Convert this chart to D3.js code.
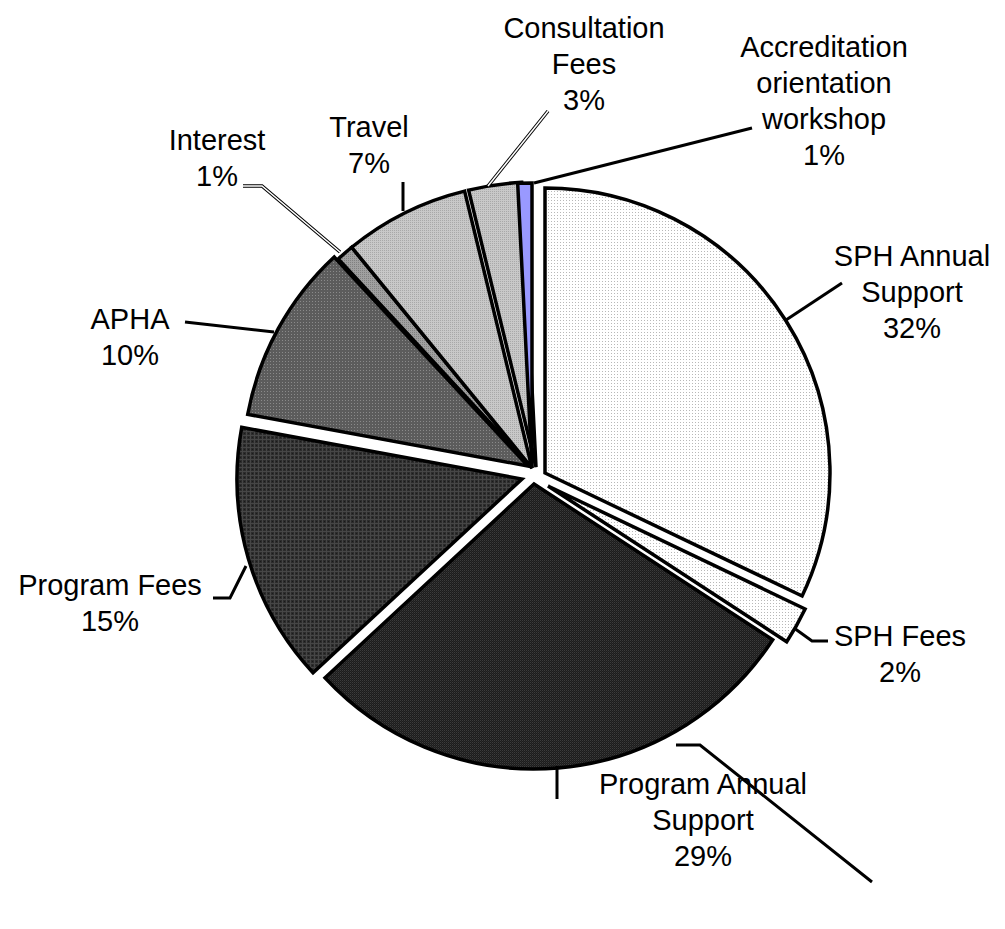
<!DOCTYPE html>
<html>
<head>
<meta charset="utf-8">
<script src="https://cdn.jsdelivr.net/npm/d3@7"></script>
<style>
  body { margin: 0; background: #fff; }
  text { font-family: "Liberation Sans", Arial, sans-serif; font-size: 29px; fill: #000; }
</style>
</head>
<body>
<svg id="chart" width="1005" height="929"></svg>
<script>
// DATA
var categories = ["SPH Annual Support", "SPH Fees", "Program Annual Support", "Program Fees", "APHA",
                  "Interest", "Travel", "Consultation Fees", "Accreditation orientation workshop"];
var values = [32.1, 2.1, 28.9, 14.8, 10.2, 1.0, 7.1, 3.0, 0.8];
var labelLines = [["SPH Annual", "Support"], ["SPH Fees"], ["Program Annual", "Support"], ["Program Fees"], ["APHA"],
                  ["Interest"], ["Travel"], ["Consultation", "Fees"], ["Accreditation", "orientation", "workshop"]];

// LAYOUT
var cx = 532, cy = 468, radius = 285;
// slice offsets (exploded pieces)
var offsets = [[13, 5], [16, 18], [2, 16], [-10, 11], [-4, -2], [0, 0], [0, 0], [4, -1], [0, 0]];
var fills = ["url(#dotsLight)", "url(#dotsLight)", "url(#checkDark)", "url(#gridDark)", "url(#dotsMid)",
             "url(#dotsGrey)", "url(#dotsPale)", "url(#dotsPale)", "#9999ff"];
// label anchor (center x, first baseline y)
var labelPos = [[912, 266], [900, 646], [703, 794], [110, 595], [130, 329],
                [217, 150], [369, 137], [584, 38], [824, 57]];
// leader lines (polyline points)
var leaders = [
    [[842, 283], [786, 320]],
    [[828, 641], [812, 641], [794, 628]],
    [[557, 799], [557, 766]],
    [[213, 598], [230, 598], [246, 566]],
    [[185, 322], [274, 332]],
    [[243, 186], [262, 186], [340, 252]],
    [[403, 182], [403, 211]],
    [[548, 111], [488, 186]],
    [[752, 128], [534, 183]],
    [[676, 745], [700, 745], [872, 882]]
];
var doubleLeader = [false, false, false, false, false, true, false, true, false, false];

var svg = d3.select('#chart');
var defs = svg.append('defs');

// PATTERNS
function addPattern(id, size, bg, dots) {
    var p = defs.append('pattern')
        .attr('id', id)
        .attr('patternUnits', 'userSpaceOnUse')
        .attr('width', size).attr('height', size);
    p.append('rect').attr('width', size).attr('height', size).attr('fill', bg);
    dots.forEach(function(d) {
        p.append('rect').attr('x', d[0]).attr('y', d[1]).attr('width', d[2]).attr('height', d[3]).attr('fill', d[4]);
    });
}
addPattern('dotsLight', 3, '#ffffff', [[0, 0, 1, 1, '#b8b8b8']]);
addPattern('dotsPale', 2, '#c8c8c8', [[0, 0, 1, 1, '#a8a8a8']]);
addPattern('dotsGrey', 2, '#a0a0a0', [[0, 0, 1, 1, '#808080']]);
addPattern('dotsMid', 3, '#5c5c5c', [[0, 0, 1, 1, '#8a8a8a']]);
addPattern('checkDark', 2, '#1c1c1c', [[0, 0, 1, 1, '#3c3c3c'], [1, 1, 1, 1, '#2a2a2a']]);
addPattern('gridDark', 4, '#2c2c2c', [[0, 0, 4, 1, '#464646'], [0, 0, 1, 4, '#464646'], [2, 2, 1, 1, '#1a1a1a']]);

// PIE
var pie = d3.pie().sort(null).value(function(d) { return d; }).startAngle(0).endAngle(2 * Math.PI);
var arcs = pie(values);
var arc = d3.arc().innerRadius(0).outerRadius(radius);

var g = svg.append('g').attr('transform', 'translate(' + cx + ',' + cy + ')');
g.selectAll('path.slice')
    .data(arcs)
    .enter()
    .append('path')
    .attr('class', 'slice')
    .attr('d', arc)
    .attr('transform', function(d, i) {
        return 'translate(' + offsets[i][0] + ',' + offsets[i][1] + ')';
    })
    .style('fill', function(d, i) { return fills[i]; })
    .style('stroke', '#000')
    .style('stroke-width', 3.5)
    .style('stroke-linejoin', 'miter');

// LEADER LINES
var line = d3.line();
leaders.forEach(function(pts, i) {
    if (doubleLeader[i]) {
        svg.append('path').attr('d', line(pts)).style('fill', 'none').style('stroke', '#000').style('stroke-width', 3.5);
        svg.append('path').attr('d', line(pts)).style('fill', 'none').style('stroke', '#fff').style('stroke-width', 1.5);
    } else {
        svg.append('path').attr('d', line(pts)).style('fill', 'none').style('stroke', '#000').style('stroke-width', 3);
    }
});

// LABELS
var fmt = d3.format('.0f');
labelLines.forEach(function(lines, i) {
    var t = svg.append('text')
        .attr('x', labelPos[i][0])
        .attr('y', labelPos[i][1])
        .attr('text-anchor', 'middle');
    lines.concat([fmt(values[i]) + '%']).forEach(function(s, k) {
        t.append('tspan').attr('x', labelPos[i][0]).attr('dy', k === 0 ? 0 : 36).text(s);
    });
});
</script>
</body>
</html>
